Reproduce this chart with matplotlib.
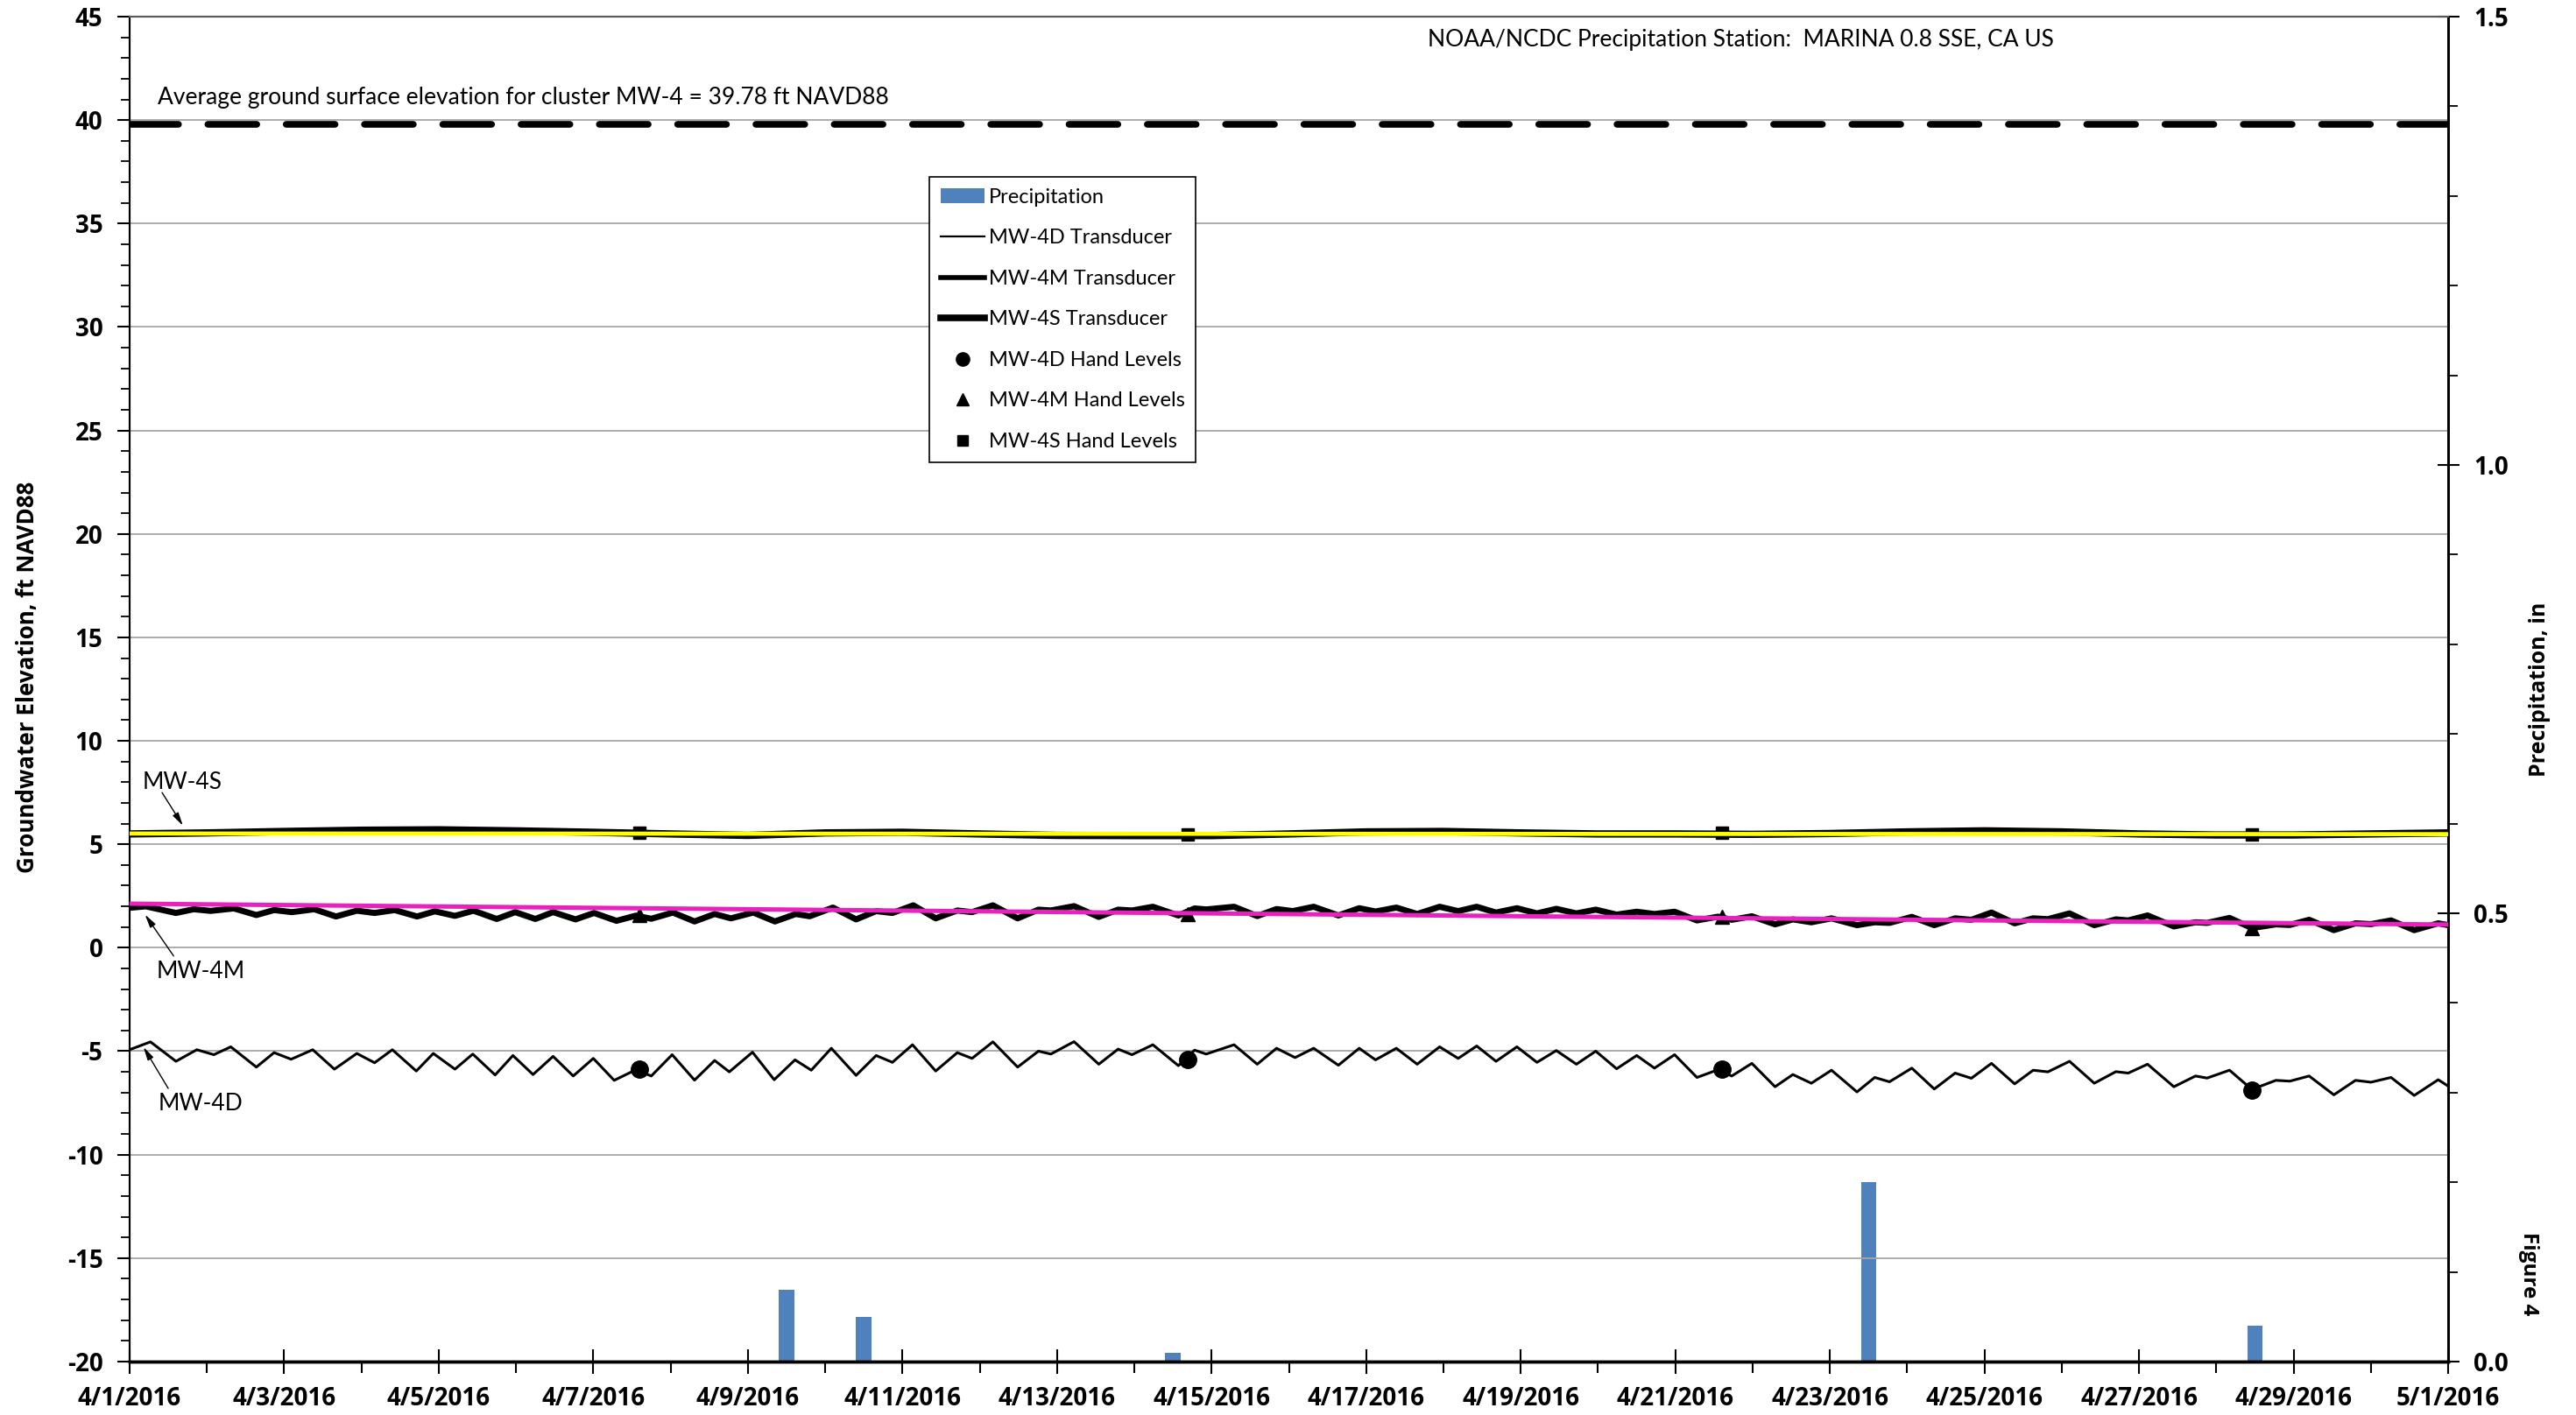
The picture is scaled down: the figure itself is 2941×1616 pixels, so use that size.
import numpy as np
import matplotlib
matplotlib.use("Agg")
import matplotlib.pyplot as plt
import matplotlib.dates as mdates
from matplotlib import font_manager
from matplotlib.lines import Line2D
from matplotlib.patches import Patch

plt.rcParams['font.family'] = ['Lato', 'DejaVu Sans']
plt.rcParams['axes.unicode_minus'] = False


def has_bold(name):
    for f in font_manager.fontManager.ttflist:
        if f.name == name and f.style == 'normal':
            w = f.weight
            if isinstance(w, str):
                w = font_manager.weight_dict.get(w, 400)
            if w == 700:
                return True
    return False


BOLD = next((n for n in ['Open Sans', 'Roboto', 'Noto Sans', 'Lato', 'Liberation Sans']
             if has_bold(n)), 'DejaVu Sans')

START = np.datetime64('2016-04-01T00:00')
END = np.datetime64('2016-05-01T00:00')

# times are in days after 4/1/2016 00:00
d_days = [0.0, 0.27, 0.6, 0.87, 1.09, 1.31, 1.64, 1.87, 2.09, 2.37, 2.65, 2.94,
          3.17, 3.4, 3.71, 3.93, 4.21, 4.44, 4.73, 4.96, 5.22, 5.48, 5.74, 6.0,
          6.27, 6.55, 6.75, 7.02, 7.31, 7.57, 7.76, 8.06, 8.34, 8.61, 8.82, 9.08,
          9.4, 9.66, 9.87, 10.13, 10.43, 10.71, 10.9, 11.17, 11.49, 11.76, 11.92,
          12.22, 12.54, 12.79, 12.97, 13.24, 13.57, 13.78, 13.93, 14.29, 14.59,
          14.84, 15.08, 15.32, 15.64, 15.91, 16.12, 16.39, 16.66, 16.95, 17.19,
          17.43, 17.68, 17.95, 18.21, 18.46, 18.72, 18.97, 19.24, 19.5, 19.73,
          19.99, 20.28, 20.55, 20.73, 20.99, 21.29, 21.52, 21.76, 22.02, 22.35,
          22.58, 22.77, 23.06, 23.35, 23.62, 23.83, 24.09, 24.39, 24.63, 24.82,
          25.1, 25.42, 25.7, 25.86, 26.11, 26.45, 26.73, 26.88, 27.17, 27.46,
          27.77, 27.95, 28.2, 28.52, 28.8, 29.0, 29.26, 29.56, 29.87, 30.0]
mw4d = [-4.93, -4.55, -5.49, -4.93, -5.17, -4.79, -5.77, -5.07, -5.39, -4.93, -5.87, -5.11,
        -5.56, -4.93, -5.96, -5.11, -5.87, -5.14, -6.15, -5.21, -6.13, -5.25, -6.2, -5.35,
        -6.41, -5.9, -6.2, -5.17, -6.4, -5.45, -6.0, -5.05, -6.38, -5.42, -5.92, -4.86,
        -6.17, -5.21, -5.54, -4.69, -5.96, -5.07, -5.35, -4.55, -5.77, -5.0, -5.14,
        -4.54, -5.63, -4.9, -5.17, -4.69, -5.7, -4.95, -5.14, -4.69, -5.63,
        -4.86, -5.31, -4.86, -5.68, -4.86, -5.42, -4.86, -5.63, -4.79, -5.35,
        -4.75, -5.49, -4.79, -5.54, -4.97, -5.63, -5.0, -5.85, -5.21, -5.82,
        -5.17, -6.27, -5.9, -6.2, -5.59, -6.72, -6.13, -6.55, -5.92, -6.97,
        -6.27, -6.48, -5.82, -6.83, -6.06, -6.31, -5.59, -6.58, -5.92, -6.0,
        -5.49, -6.55, -5.99, -6.06, -5.63, -6.72, -6.2, -6.3, -5.92, -6.85,
        -6.41, -6.45, -6.2, -7.11, -6.41, -6.5, -6.27, -7.14, -6.38, -6.69]

m_days = [0.0, 0.21, 0.6, 0.83, 1.05, 1.35, 1.64, 1.87, 2.1, 2.39, 2.67, 2.94,
          3.17, 3.43, 3.72, 3.95, 4.21, 4.45, 4.75, 4.99, 5.25, 5.48, 5.77, 6.01,
          6.3, 6.55, 6.75, 7.03, 7.31, 7.57, 7.78, 8.07, 8.35, 8.62, 8.8, 9.1,
          9.4, 9.66, 9.87, 10.14, 10.43, 10.71, 10.9, 11.17, 11.49, 11.76, 11.92,
          12.22, 12.54, 12.79, 12.97, 13.24, 13.57, 13.78, 13.93, 14.29, 14.59,
          14.84, 15.05, 15.32, 15.64, 15.91, 16.12, 16.39, 16.66, 16.95, 17.19,
          17.43, 17.68, 17.95, 18.21, 18.46, 18.72, 18.97, 19.24, 19.5, 19.73,
          19.99, 20.28, 20.55, 20.73, 20.99, 21.29, 21.52, 21.76, 22.02, 22.35,
          22.58, 22.77, 23.06, 23.35, 23.62, 23.83, 24.09, 24.39, 24.63, 24.82,
          25.1, 25.42, 25.7, 25.86, 26.11, 26.45, 26.73, 26.88, 27.17, 27.46,
          27.77, 27.95, 28.2, 28.52, 28.8, 29.0, 29.26, 29.56, 29.87, 30.0]
mw4m = [1.93, 2.0, 1.68, 1.86, 1.78, 1.9, 1.58, 1.82, 1.72, 1.86, 1.51, 1.79,
        1.68, 1.82, 1.51, 1.76, 1.54, 1.79, 1.39, 1.72, 1.39, 1.72, 1.37, 1.68,
        1.3, 1.55, 1.4, 1.7, 1.27, 1.63, 1.42, 1.7, 1.27, 1.63, 1.52, 1.94,
        1.37, 1.77, 1.68, 2.05, 1.42, 1.8, 1.72, 2.05, 1.42, 1.84, 1.8,
        2.01, 1.49, 1.84, 1.8, 1.98, 1.56, 1.9, 1.85, 1.98, 1.53,
        1.87, 1.77, 1.98, 1.56, 1.91, 1.75, 1.94, 1.63, 1.98, 1.77,
        1.98, 1.7, 1.91, 1.66, 1.88, 1.66, 1.84, 1.6, 1.74, 1.63,
        1.74, 1.32, 1.5, 1.35, 1.52, 1.13, 1.37, 1.23, 1.42, 1.09,
        1.23, 1.2, 1.49, 1.09, 1.42, 1.35, 1.7, 1.18, 1.42, 1.38,
        1.66, 1.09, 1.37, 1.32, 1.56, 1.03, 1.23, 1.2, 1.44, 0.95,
        1.13, 1.1, 1.35, 0.85, 1.18, 1.14, 1.32, 0.85, 1.18, 1.09]

s_days = list(range(31))
mw4s = [5.5, 5.55, 5.62, 5.68, 5.7, 5.65, 5.58, 5.5, 5.43, 5.55, 5.58, 5.5, 5.43,
        5.42, 5.42, 5.5, 5.6, 5.62, 5.55, 5.5, 5.5, 5.48, 5.52, 5.6, 5.65, 5.6,
        5.5, 5.45, 5.45, 5.5, 5.55]

# hand level measurements
hand_days = [6.6, 13.69, 20.6, 27.46]
hand_d = [-5.87, -5.4, -5.87, -6.9]
hand_m = [1.58, 1.62, 1.5, 0.95]
hand_s = [5.56, 5.48, 5.56, 5.48]

# straight reference lines (start / end)
ref_days = [0, 30]
yellow_s = [5.52, 5.49]
magenta_m = [2.13, 1.12]

ground_surface = 39.78

# daily precipitation, in
precip_days = [8.5, 9.5, 13.5, 22.5, 27.5]
precip_in = [0.08, 0.05, 0.01, 0.20, 0.04]


def to_dt(days):
    return START + (np.array(days) * 24 * 60).round().astype('timedelta64[m]')


fig = plt.figure(figsize=(29.41, 16.16), dpi=100)
ax = fig.add_axes([0.0503, 0.0378, 0.9001, 0.9504])
ax2 = ax.twinx()
ax.set_zorder(ax2.get_zorder() + 1)
ax.patch.set_visible(False)

# precipitation bars
ax2.bar(to_dt(precip_days), precip_in, width=0.2, color='#4F81BD', zorder=2)
ax2.set_ylim(0, 1.5)
ax2.set_yticks([0, 0.5, 1.0, 1.5])
ax2.set_yticklabels(['0.0', '0.5', '1.0', '1.5'])
ax2.yaxis.set_minor_locator(plt.MultipleLocator(0.1))

# groundwater
ax.plot(to_dt([0, 30]), [ground_surface, ground_surface], color='black', lw=5.5,
        dashes=(7.3, 4.4), dash_capstyle='round', zorder=4)
ax.plot(to_dt(s_days), mw4s, color='black', lw=6, zorder=3, solid_capstyle='butt')
ax.plot(to_dt(hand_days), hand_s, 's', color='black', ms=10, zorder=4)
ax.plot(to_dt(ref_days), yellow_s, color='#FFFF00', lw=3.4, zorder=5, solid_capstyle='butt')

ax.plot(to_dt(m_days), mw4m, color='black', lw=5, zorder=3, solid_joinstyle='round')
ax.plot(to_dt(hand_days), hand_m, '^', color='black', ms=11, zorder=4)
ax.plot(to_dt(ref_days), magenta_m, color='#E822BE', lw=3.6, zorder=5, solid_capstyle='butt')

ax.plot(to_dt(d_days), mw4d, color='black', lw=2.2, zorder=3, solid_joinstyle='round')
ax.plot(to_dt(hand_days), hand_d, 'o', color='black', ms=14, zorder=4)

ax.set_xlim(START, END)
ax.set_ylim(-20, 45)
ax.set_yticks(range(-20, 46, 5))
ax.yaxis.set_minor_locator(plt.MultipleLocator(1))
ax.yaxis.grid(True, which='major', color='#A6A6A6', lw=1.3, zorder=1)
ax.set_axisbelow(True)

ax.xaxis.set_major_locator(mdates.DayLocator(bymonthday=range(1, 32, 2)))
ax.xaxis.set_minor_locator(mdates.DayLocator())
ax.xaxis.set_major_formatter(plt.FuncFormatter(
    lambda v, p: "{d.month}/{d.day}/{d.year}".format(d=mdates.num2date(v))))

ax.tick_params(axis='x', which='major', direction='inout', length=20, width=1.5, pad=10,
               labelsize=20)
ax.tick_params(axis='x', which='minor', direction='out', length=9, width=1.5)
ax.tick_params(axis='y', which='major', direction='out', length=10, width=1.5, pad=12,
               labelsize=20)
ax.tick_params(axis='y', which='minor', direction='out', length=7, width=1.3)
ax2.tick_params(axis='y', which='major', direction='inout', length=18, width=1.5, pad=12,
                labelsize=20)
ax2.tick_params(axis='y', which='minor', direction='out', length=8, width=1.3)

for a in (ax, ax2):
    a.spines['top'].set_color('#595959')
    a.spines['top'].set_linewidth(1.5)
    a.spines['bottom'].set_linewidth(2.5)
    a.spines['left'].set_linewidth(1.5)
    a.spines['right'].set_linewidth(2)

bold = dict(family=[BOLD, 'DejaVu Sans'], fontweight='bold')
ax.set_ylabel('Groundwater Elevation, ft NAVD88', fontsize=18.7, **bold)
ax.yaxis.set_label_coords(-0.039, 0.509)
ax2.set_ylabel('Precipitation, in', fontsize=18, rotation=90, **bold)
ax2.yaxis.set_label_coords(1.0347, 0.5)
ax.text(1.0347, 0.065, 'Figure 4', transform=ax.transAxes, rotation=270,
        fontsize=17.5, ha='center', va='center', **bold)

# annotations
ax.text(to_dt([0.36])[0], 41.1,
        'Average ground surface elevation for cluster MW-4 = 39.78 ft NAVD88',
        fontsize=19, ha='left', va='center')
ax.text(to_dt([16.8])[0], 43.9,
        'NOAA/NCDC Precipitation Station:  MARINA 0.8 SSE, CA US',
        fontsize=19, ha='left', va='center')

arrow = dict(arrowstyle='-|>,head_length=0.9,head_width=0.22', lw=1, color='black',
             shrinkA=0, shrinkB=0)
ax.annotate('', xy=(to_dt([0.69])[0], 5.9), xytext=(to_dt([0.42])[0], 7.5),
            arrowprops=arrow, zorder=6)
ax.annotate('', xy=(to_dt([0.2])[0], 1.6), xytext=(to_dt([0.57])[0], -0.4),
            arrowprops=arrow, zorder=6)
ax.annotate('', xy=(to_dt([0.18])[0], -4.8), xytext=(to_dt([0.5])[0], -6.8),
            arrowprops=arrow, zorder=6)
ax.text(to_dt([0.68])[0], 8.0, 'MW-4S', fontsize=19, ha='center', va='center')
ax.text(to_dt([0.92])[0], -1.17, 'MW-4M', fontsize=19, ha='center', va='center')
ax.text(to_dt([0.92])[0], -7.56, 'MW-4D', fontsize=19, ha='center', va='center')

handles = [
    Patch(facecolor='#4F81BD', edgecolor='none'),
    Line2D([], [], color='black', lw=1.6),
    Line2D([], [], color='black', lw=4),
    Line2D([], [], color='black', lw=5.5),
    Line2D([], [], ls='none', marker='o', color='black', ms=11),
    Line2D([], [], ls='none', marker='^', color='black', ms=10),
    Line2D([], [], ls='none', marker='s', color='black', ms=9),
]
labels = ['Precipitation', 'MW-4D Transducer', 'MW-4M Transducer', 'MW-4S Transducer',
          'MW-4D Hand Levels', 'MW-4M Hand Levels', 'MW-4S Hand Levels']
leg = ax.legend(handles, labels, loc='upper left', bbox_to_anchor=(0.345, 0.881),
                fontsize=17, frameon=True, fancybox=False, framealpha=1,
                edgecolor='black', handlelength=2.1, handletextpad=0.2,
                labelspacing=1.08, borderpad=0.55, borderaxespad=0)
leg.get_frame().set_linewidth(1.2)
leg.set_zorder(10)

# tick labels exist only after a draw; make them bold then
fig.canvas.draw()
for lab in ax.get_xticklabels() + ax.get_yticklabels() + ax2.get_yticklabels():
    lab.set_family([BOLD, 'DejaVu Sans'])
    lab.set_fontweight('bold')

fig.savefig('out.png', dpi=100)
